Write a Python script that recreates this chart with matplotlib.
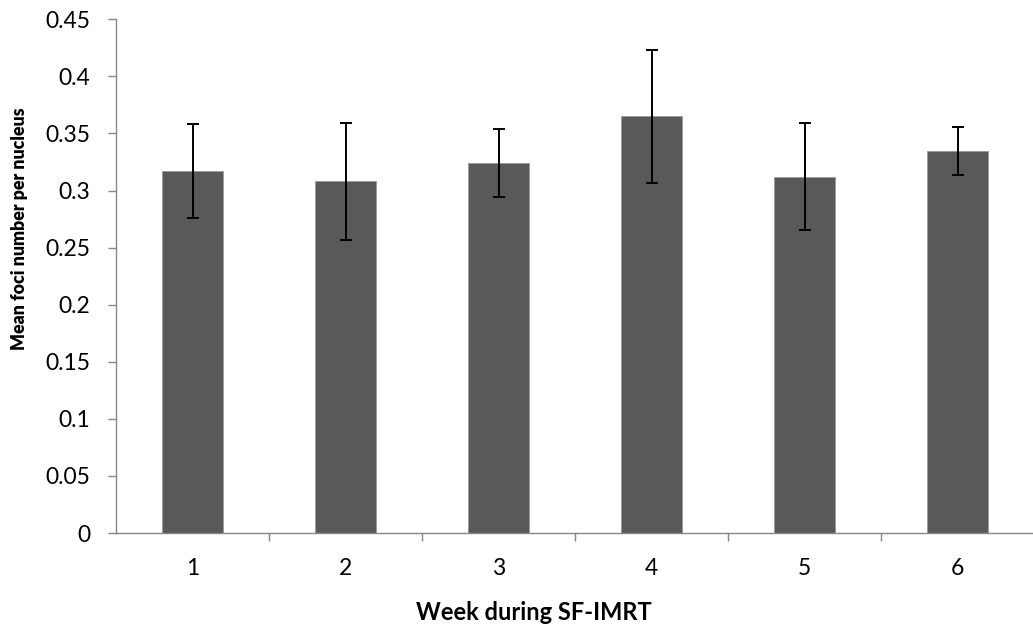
import matplotlib
matplotlib.use("Agg")
import matplotlib.pyplot as plt
import numpy as np

# Mean foci per nucleus for each week of treatment, with error bars
weeks = ["1", "2", "3", "4", "5", "6"]
mean_foci = [0.317, 0.308, 0.324, 0.365, 0.312, 0.335]
foci_err = [0.041, 0.051, 0.030, 0.058, 0.047, 0.021]
y_ticks = [0, 0.05, 0.1, 0.15, 0.2, 0.25, 0.3, 0.35, 0.4, 0.45]
y_tick_labels = ["0", "0.05", "0.1", "0.15", "0.2", "0.25", "0.3", "0.35", "0.4", "0.45"]

W, H = 1033, 627
fig = plt.figure(figsize=(W / 100, H / 100), dpi=100)
plt.rcParams["font.family"] = ["Lato", "DejaVu Sans"]

ax_left, ax_right = 116.3, 1034.0
ax_top, ax_bottom = 19.3, 533.0
ax = fig.add_axes([ax_left / W, 1 - ax_bottom / H,
                   (ax_right - ax_left) / W, (ax_bottom - ax_top) / H])

axis_gray = "#868686"
x = np.arange(len(weeks))
ax.bar(x, mean_foci, width=0.4, color="#595959", edgecolor="#9a9a9a",
       linewidth=0.6, zorder=2)
ax.errorbar(x, mean_foci, yerr=foci_err, fmt="none", ecolor="black",
            elinewidth=1.4, capsize=4.2, capthick=1.4, zorder=3)

ax.set_xlim(-0.5, len(weeks) - 0.5)
ax.set_ylim(0, 0.45)

for s in ["top", "right"]:
    ax.spines[s].set_visible(False)
for s in ["left", "bottom"]:
    ax.spines[s].set_color(axis_gray)
    ax.spines[s].set_linewidth(1.0)

ax.set_yticks(y_ticks)
ax.set_yticklabels(y_tick_labels)
ax.tick_params(axis="y", direction="out", length=5.8, width=1.0,
               color=axis_gray, pad=13, labelsize=16.5, labelcolor="black")

# Category labels centred under bars; tick marks at the category boundaries
ax.set_xticks(x)
ax.set_xticklabels(weeks)
ax.set_xticks(np.arange(0.5, len(weeks) - 0.5, 1.0), minor=True)
ax.tick_params(axis="x", which="major", length=0, pad=18, labelsize=16.5,
               labelcolor="black")
ax.tick_params(axis="x", which="minor", direction="out", length=5.8,
               width=1.0, color=axis_gray)

fig.text(19.5 / W, 1 - 229 / H, "Mean foci number per nucleus",
         rotation=90, ha="center", va="center", fontsize=12.8,
         fontweight="heavy")
fig.text(533.5 / W, 1 - 620 / H, "Week during SF-IMRT", ha="center",
         va="baseline", fontsize=17, fontweight="bold")

fig.savefig("out.png", dpi=100)
